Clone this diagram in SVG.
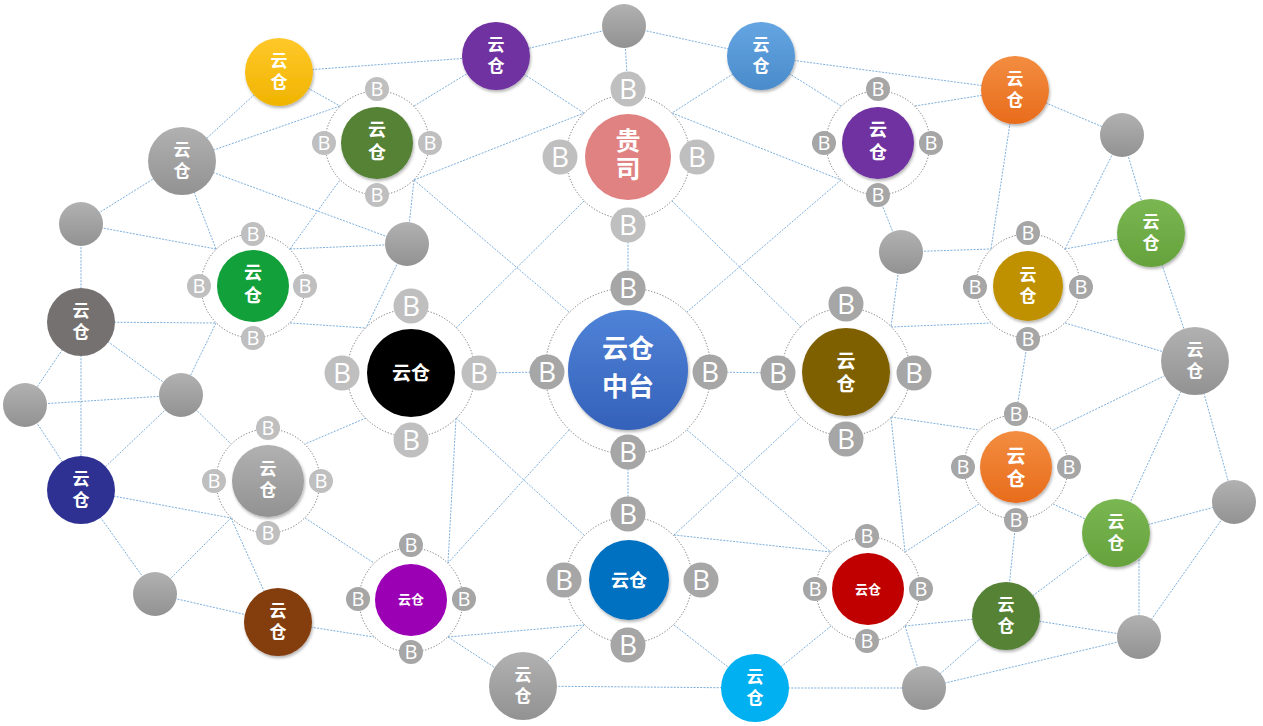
<svg xmlns="http://www.w3.org/2000/svg" width="1263" height="726" viewBox="0 0 1263 726">
<style>
.e{stroke:#5b9bd5;stroke-width:1;stroke-dasharray:2 1.3;opacity:.8;fill:none}
.ring{fill:#fff;stroke:#737373;stroke-width:1;stroke-dasharray:1.2 1.8}
.sl{fill:#bfbfbf}.sd{fill:#a6a6a6}
.b{fill:#fff;font-family:"Open Sans","Liberation Sans",sans-serif;text-anchor:middle;font-size:20px}
.bb{fill:#fff;font-family:"Open Sans","Liberation Sans",sans-serif;text-anchor:middle;font-size:28px}
.t{fill:#fff;font-family:"Noto Sans CJK SC","Noto Sans CJK JP",sans-serif;font-weight:700;text-anchor:middle}
.v{writing-mode:vertical-rl;text-orientation:upright}
.s17{font-size:17px;letter-spacing:3.5px}
.s18{font-size:18px;letter-spacing:5px}
.s19{font-size:19px;letter-spacing:4px}
</style>
<defs>
<filter id="sh" x="-30%" y="-30%" width="160%" height="170%"><feDropShadow dx="1" dy="2" stdDeviation="1.5" flood-color="#000" flood-opacity="0.3"/></filter>
<linearGradient id="gGray" x1="0" y1="0" x2="0" y2="1"><stop offset="0" stop-color="#b1b1b1"/><stop offset="1" stop-color="#929292"/></linearGradient>
<linearGradient id="gYellow" x1="0" y1="0" x2="0" y2="1"><stop offset="0" stop-color="#ffc82a"/><stop offset="1" stop-color="#f0b400"/></linearGradient>
<linearGradient id="gBlue" x1="0" y1="0" x2="0" y2="1"><stop offset="0" stop-color="#64a5e2"/><stop offset="1" stop-color="#4a8bcb"/></linearGradient>
<linearGradient id="gOrange" x1="0" y1="0" x2="0" y2="1"><stop offset="0" stop-color="#f38d40"/><stop offset="1" stop-color="#e86c1c"/></linearGradient>
<linearGradient id="gGreen" x1="0" y1="0" x2="0" y2="1"><stop offset="0" stop-color="#7ab752"/><stop offset="1" stop-color="#65a23c"/></linearGradient>
<linearGradient id="gCentral" x1="0" y1="0" x2="0" y2="1"><stop offset="0" stop-color="#4f83d8"/><stop offset="1" stop-color="#3461b9"/></linearGradient>
</defs>
<rect width="1263" height="726" fill="#fff"/>
<g id="connectors">
<line class="e" x1="279" y1="72" x2="182" y2="161"/>
<line class="e" x1="279" y1="72" x2="496" y2="56"/>
<line class="e" x1="279" y1="72" x2="340" y2="106"/>
<line class="e" x1="182" y1="161" x2="340" y2="106"/>
<line class="e" x1="182" y1="161" x2="407" y2="244"/>
<line class="e" x1="182" y1="161" x2="216" y2="249"/>
<line class="e" x1="81" y1="224" x2="182" y2="161"/>
<line class="e" x1="81" y1="224" x2="216" y2="249"/>
<line class="e" x1="81" y1="224" x2="81" y2="322"/>
<line class="e" x1="290" y1="249" x2="407" y2="244"/>
<line class="e" x1="290" y1="249" x2="340" y2="180"/>
<line class="e" x1="414" y1="180" x2="407" y2="244"/>
<line class="e" x1="407" y1="244" x2="366" y2="328"/>
<line class="e" x1="414" y1="180" x2="569" y2="312"/>
<line class="e" x1="414" y1="180" x2="584" y2="113"/>
<line class="e" x1="414" y1="106" x2="496" y2="56"/>
<line class="e" x1="496" y1="56" x2="584" y2="113"/>
<line class="e" x1="584" y1="201" x2="456" y2="328"/>
<line class="e" x1="628" y1="225" x2="628" y2="288"/>
<line class="e" x1="624" y1="26" x2="628" y2="89"/>
<line class="e" x1="624" y1="26" x2="496" y2="56"/>
<line class="e" x1="624" y1="26" x2="761" y2="56"/>
<line class="e" x1="761" y1="56" x2="672" y2="113"/>
<line class="e" x1="761" y1="56" x2="841" y2="106"/>
<line class="e" x1="761" y1="56" x2="1015" y2="90"/>
<line class="e" x1="672" y1="113" x2="841" y2="180"/>
<line class="e" x1="672" y1="201" x2="801" y2="327"/>
<line class="e" x1="841" y1="180" x2="687" y2="312"/>
<line class="e" x1="915" y1="106" x2="1015" y2="90"/>
<line class="e" x1="878" y1="195" x2="901" y2="252"/>
<line class="e" x1="901" y1="252" x2="991" y2="249"/>
<line class="e" x1="901" y1="252" x2="891" y2="327"/>
<line class="e" x1="1015" y1="90" x2="1122" y2="135"/>
<line class="e" x1="1015" y1="90" x2="991" y2="249"/>
<line class="e" x1="1122" y1="135" x2="1151" y2="233"/>
<line class="e" x1="1122" y1="135" x2="1065" y2="249"/>
<line class="e" x1="1151" y1="233" x2="1065" y2="249"/>
<line class="e" x1="1151" y1="233" x2="1195" y2="361"/>
<line class="e" x1="891" y1="327" x2="991" y2="323"/>
<line class="e" x1="1065" y1="323" x2="1195" y2="361"/>
<line class="e" x1="1028" y1="339" x2="1016" y2="414"/>
<line class="e" x1="1195" y1="361" x2="1234" y2="502"/>
<line class="e" x1="1195" y1="361" x2="1053" y2="430"/>
<line class="e" x1="1195" y1="361" x2="1116" y2="533"/>
<line class="e" x1="891" y1="417" x2="979" y2="430"/>
<line class="e" x1="891" y1="417" x2="905" y2="552"/>
<line class="e" x1="979" y1="504" x2="905" y2="552"/>
<line class="e" x1="1053" y1="504" x2="1116" y2="533"/>
<line class="e" x1="1016" y1="520" x2="1006" y2="616"/>
<line class="e" x1="1116" y1="533" x2="1234" y2="502"/>
<line class="e" x1="1116" y1="533" x2="1006" y2="616"/>
<line class="e" x1="1139" y1="533" x2="1139" y2="637"/>
<line class="e" x1="1234" y1="502" x2="1139" y2="637"/>
<line class="e" x1="1139" y1="637" x2="1006" y2="616"/>
<line class="e" x1="1139" y1="637" x2="924" y2="688"/>
<line class="e" x1="1006" y1="616" x2="924" y2="688"/>
<line class="e" x1="905" y1="626" x2="1006" y2="616"/>
<line class="e" x1="905" y1="626" x2="924" y2="688"/>
<line class="e" x1="831" y1="626" x2="755" y2="688"/>
<line class="e" x1="674" y1="535" x2="831" y2="552"/>
<line class="e" x1="755" y1="688" x2="924" y2="688"/>
<line class="e" x1="755" y1="688" x2="523" y2="686"/>
<line class="e" x1="674" y1="625" x2="755" y2="688"/>
<line class="e" x1="584" y1="625" x2="523" y2="686"/>
<line class="e" x1="628" y1="452" x2="628" y2="514"/>
<line class="e" x1="687" y1="430" x2="831" y2="552"/>
<line class="e" x1="569" y1="430" x2="448" y2="563"/>
<line class="e" x1="456" y1="418" x2="448" y2="563"/>
<line class="e" x1="456" y1="418" x2="584" y2="535"/>
<line class="e" x1="479" y1="373" x2="547" y2="372"/>
<line class="e" x1="710" y1="372" x2="778" y2="373"/>
<line class="e" x1="290" y1="323" x2="366" y2="328"/>
<line class="e" x1="81" y1="322" x2="216" y2="323"/>
<line class="e" x1="366" y1="418" x2="305" y2="444"/>
<line class="e" x1="216" y1="323" x2="181" y2="395"/>
<line class="e" x1="181" y1="395" x2="231" y2="444"/>
<line class="e" x1="81" y1="322" x2="181" y2="395"/>
<line class="e" x1="81" y1="322" x2="25" y2="405"/>
<line class="e" x1="81" y1="322" x2="81" y2="490"/>
<line class="e" x1="25" y1="405" x2="181" y2="395"/>
<line class="e" x1="25" y1="405" x2="81" y2="490"/>
<line class="e" x1="181" y1="395" x2="81" y2="490"/>
<line class="e" x1="81" y1="490" x2="231" y2="518"/>
<line class="e" x1="81" y1="490" x2="155" y2="594"/>
<line class="e" x1="155" y1="594" x2="231" y2="518"/>
<line class="e" x1="155" y1="594" x2="278" y2="622"/>
<line class="e" x1="231" y1="518" x2="278" y2="622"/>
<line class="e" x1="305" y1="518" x2="374" y2="563"/>
<line class="e" x1="278" y1="622" x2="374" y2="637"/>
<line class="e" x1="448" y1="637" x2="584" y2="625"/>
<line class="e" x1="448" y1="637" x2="523" y2="686"/>
<line class="e" x1="801" y1="417" x2="674" y2="535"/>
</g>

<g id="n-yellow"><circle cx="279" cy="72" r="34" fill="url(#gYellow)" filter="url(#sh)"/><text class="t v s17" x="279" y="73">云仓</text></g>
<g id="n-gray23"><circle cx="182" cy="161" r="34" fill="url(#gGray)"/><text class="t v s17" x="182" y="162">云仓</text></g>
<g id="n-gray22"><circle cx="81" cy="224" r="22" fill="url(#gGray)"/></g>
<g id="n-purpleTop"><circle cx="496" cy="56" r="34" fill="#7030a0" filter="url(#sh)"/><text class="t v s17" x="496" y="57">云仓</text></g>
<g id="n-gray24"><circle cx="407" cy="244" r="22" fill="url(#gGray)"/></g>
<g id="n-grayTop"><circle cx="624" cy="26" r="22" fill="url(#gGray)"/></g>
<g id="n-blue"><circle cx="761" cy="56" r="34" fill="url(#gBlue)" filter="url(#sh)"/><text class="t v s17" x="761" y="57">云仓</text></g>
<g id="n-gray25"><circle cx="901" cy="252" r="22" fill="url(#gGray)"/></g>
<g id="n-orangeTop"><circle cx="1015" cy="90" r="34" fill="url(#gOrange)" filter="url(#sh)"/><text class="t v s17" x="1015" y="91">云仓</text></g>
<g id="n-gray6"><circle cx="1122" cy="135" r="22" fill="url(#gGray)"/></g>
<g id="n-greenLight"><circle cx="1151" cy="233" r="34" fill="url(#gGreen)" filter="url(#sh)"/><text class="t v s17" x="1151" y="234">云仓</text></g>
<g id="n-gray8"><circle cx="1195" cy="361" r="34" fill="url(#gGray)"/><text class="t v s17" x="1195" y="362">云仓</text></g>
<g id="n-gray20"><circle cx="81" cy="322" r="34" fill="#767171"/><text class="t v s17" x="81" y="323">云仓</text></g>
<g id="n-gray21"><circle cx="181" cy="395" r="22" fill="url(#gGray)"/></g>
<g id="n-gray19"><circle cx="25" cy="405" r="22" fill="url(#gGray)"/></g>
<g id="n-darkBlue"><circle cx="81" cy="490" r="34" fill="#2e3192"/><text class="t v s17" x="81" y="491">云仓</text></g>
<g id="n-gray17"><circle cx="155" cy="594" r="22" fill="url(#gGray)"/></g>
<g id="n-brown"><circle cx="278" cy="622" r="34" fill="#843c0c" filter="url(#sh)"/><text class="t v s17" x="278" y="623">云仓</text></g>
<g id="n-gray15"><circle cx="523" cy="686" r="34" fill="url(#gGray)"/><text class="t v s17" x="523" y="687">云仓</text></g>
<g id="n-cyan"><circle cx="755" cy="688" r="34" fill="#00b0f0"/><text class="t v s17" x="755" y="689">云仓</text></g>
<g id="n-gray13"><circle cx="924" cy="688" r="22" fill="url(#gGray)"/></g>
<g id="n-darkGreen"><circle cx="1006" cy="616" r="34" fill="#548235" filter="url(#sh)"/><text class="t v s17" x="1006" y="617">云仓</text></g>
<g id="n-gray11"><circle cx="1139" cy="637" r="22" fill="url(#gGray)"/></g>
<g id="n-greenLight2"><circle cx="1116" cy="533" r="34" fill="url(#gGreen)" filter="url(#sh)"/><text class="t v s17" x="1116" y="534">云仓</text></g>
<g id="n-gray9"><circle cx="1234" cy="502" r="22" fill="url(#gGray)"/></g>

<g id="n-greenA"><circle class="ring" cx="377" cy="143" r="52"/><circle cx="377" cy="143" r="36" fill="#548235" filter="url(#sh)"/><text class="t v s18" x="377" y="143">云仓</text>
<circle class="sl" cx="377" cy="89" r="12"/><text class="b" x="377" y="96">B</text>
<circle class="sl" cx="324" cy="143" r="12"/><text class="b" x="324" y="150">B</text>
<circle class="sl" cx="430" cy="143" r="12"/><text class="b" x="430" y="150">B</text>
<circle class="sl" cx="377" cy="195" r="12"/><text class="b" x="377" y="202">B</text></g>

<g id="n-guisi"><circle class="ring" cx="628" cy="157" r="62"/><circle cx="628" cy="157" r="43" fill="#e08282"/><text class="t v" x="628" y="156" font-size="25" letter-spacing="3.5">贵司</text>
<circle class="sl" cx="628" cy="89" r="17.5"/><text class="bb" x="628" y="99">B</text>
<circle class="sl" cx="560" cy="157" r="17.5"/><text class="bb" x="560" y="167">B</text>
<circle class="sl" cx="697" cy="157" r="17.5"/><text class="bb" x="697" y="167">B</text>
<circle class="sl" cx="628" cy="225" r="17.5"/><text class="bb" x="628" y="235">B</text></g>

<g id="n-purpleF"><circle class="ring" cx="878" cy="143" r="52"/><circle cx="878" cy="143" r="36" fill="#7030a0" filter="url(#sh)"/><text class="t v s18" x="878" y="143">云仓</text>
<circle class="sd" cx="878" cy="89" r="12"/><text class="b" x="878" y="96">B</text>
<circle class="sd" cx="824" cy="143" r="12"/><text class="b" x="824" y="150">B</text>
<circle class="sd" cx="931" cy="143" r="12"/><text class="b" x="931" y="150">B</text>
<circle class="sd" cx="878" cy="195" r="12"/><text class="b" x="878" y="202">B</text></g>

<g id="n-goldG"><circle class="ring" cx="1028" cy="286" r="52"/><circle cx="1028" cy="286" r="35" fill="#bf9000" filter="url(#sh)"/><text class="t v s17" x="1028" y="287" letter-spacing="4.5">云仓</text>
<circle class="sd" cx="1028" cy="233" r="12"/><text class="b" x="1028" y="240">B</text>
<circle class="sd" cx="975" cy="287" r="12"/><text class="b" x="975" y="294">B</text>
<circle class="sd" cx="1081" cy="287" r="12"/><text class="b" x="1081" y="294">B</text>
<circle class="sd" cx="1028" cy="339" r="12"/><text class="b" x="1028" y="346">B</text></g>

<g id="n-greenB"><circle class="ring" cx="253" cy="286" r="52"/><circle cx="253" cy="286" r="36" fill="#12a03a"/><text class="t v s18" x="253" y="286">云仓</text>
<circle class="sl" cx="253" cy="234" r="12"/><text class="b" x="253" y="241">B</text>
<circle class="sl" cx="199" cy="286" r="12"/><text class="b" x="199" y="293">B</text>
<circle class="sl" cx="305" cy="286" r="12"/><text class="b" x="305" y="293">B</text>
<circle class="sl" cx="253" cy="338" r="12"/><text class="b" x="253" y="345">B</text></g>

<g id="n-black"><circle class="ring" cx="411" cy="373" r="64"/><circle cx="411" cy="373" r="44" fill="#000"/><text class="t" x="411" y="380" font-size="19">云仓</text>
<circle class="sl" cx="411" cy="306" r="17.5"/><text class="bb" x="411" y="316">B</text>
<circle class="sl" cx="342" cy="373" r="17.5"/><text class="bb" x="342" y="383">B</text>
<circle class="sl" cx="479" cy="373" r="17.5"/><text class="bb" x="479" y="383">B</text>
<circle class="sl" cx="411" cy="440" r="17.5"/><text class="bb" x="411" y="450">B</text></g>

<g id="n-central"><circle class="ring" cx="628" cy="371" r="83"/><circle cx="628" cy="370" r="60" fill="url(#gCentral)" filter="url(#sh)"/><text class="t" x="628" y="358" font-size="26">云仓</text><text class="t" x="628" y="396" font-size="26">中台</text>
<circle class="sd" cx="628" cy="288" r="17.5"/><text class="bb" x="628" y="298">B</text>
<circle class="sd" cx="547" cy="372" r="17.5"/><text class="bb" x="547" y="382">B</text>
<circle class="sd" cx="710" cy="372" r="17.5"/><text class="bb" x="710" y="382">B</text>
<circle class="sd" cx="628" cy="452" r="17.5"/><text class="bb" x="628" y="462">B</text></g>

<g id="n-olive"><circle class="ring" cx="846" cy="372" r="64"/><circle cx="846" cy="372" r="44" fill="#7f6000" filter="url(#sh)"/><text class="t v s19" x="846" y="374">云仓</text>
<circle class="sd" cx="846" cy="304" r="17.5"/><text class="bb" x="846" y="314">B</text>
<circle class="sd" cx="778" cy="373" r="17.5"/><text class="bb" x="778" y="383">B</text>
<circle class="sd" cx="914" cy="373" r="17.5"/><text class="bb" x="914" y="383">B</text>
<circle class="sd" cx="846" cy="439" r="17.5"/><text class="bb" x="846" y="449">B</text></g>

<g id="n-grayM"><circle class="ring" cx="268" cy="481" r="52"/><circle cx="268" cy="481" r="36" fill="url(#gGray)" filter="url(#sh)"/><text class="t v s17" x="268" y="481" letter-spacing="5">云仓</text>
<circle class="sl" cx="268" cy="428" r="12"/><text class="b" x="268" y="435">B</text>
<circle class="sl" cx="214" cy="481" r="12"/><text class="b" x="214" y="488">B</text>
<circle class="sl" cx="321" cy="481" r="12"/><text class="b" x="321" y="488">B</text>
<circle class="sl" cx="268" cy="533" r="12"/><text class="b" x="268" y="540">B</text></g>

<g id="n-orangeI"><circle class="ring" cx="1016" cy="467" r="52"/><circle cx="1016" cy="467" r="36" fill="url(#gOrange)" filter="url(#sh)"/><text class="t v s19" x="1016" y="469">云仓</text>
<circle class="sd" cx="1016" cy="414" r="12"/><text class="b" x="1016" y="421">B</text>
<circle class="sd" cx="963" cy="467" r="12"/><text class="b" x="963" y="474">B</text>
<circle class="sd" cx="1069" cy="467" r="12"/><text class="b" x="1069" y="474">B</text>
<circle class="sd" cx="1016" cy="520" r="12"/><text class="b" x="1016" y="527">B</text></g>

<g id="n-blueK"><circle class="ring" cx="629" cy="580" r="63"/><circle cx="629" cy="580" r="40" fill="#0070c0" filter="url(#sh)"/><text class="t" x="629" y="587" font-size="18">云仓</text>
<circle class="sd" cx="628" cy="514" r="17.5"/><text class="bb" x="628" y="524">B</text>
<circle class="sd" cx="564" cy="580" r="17.5"/><text class="bb" x="564" y="590">B</text>
<circle class="sd" cx="701" cy="580" r="17.5"/><text class="bb" x="701" y="590">B</text>
<circle class="sd" cx="628" cy="645" r="17.5"/><text class="bb" x="628" y="655">B</text></g>

<g id="n-magenta"><circle class="ring" cx="411" cy="600" r="52"/><circle cx="411" cy="600" r="36" fill="#9c00b4"/><text class="t" x="411" y="603.5" font-size="13">云仓</text>
<circle class="sd" cx="411" cy="545" r="12"/><text class="b" x="411" y="552">B</text>
<circle class="sd" cx="358" cy="599" r="12"/><text class="b" x="358" y="606">B</text>
<circle class="sd" cx="464" cy="599" r="12"/><text class="b" x="464" y="606">B</text>
<circle class="sd" cx="411" cy="652" r="12"/><text class="b" x="411" y="659">B</text></g>

<g id="n-red"><circle class="ring" cx="868" cy="589" r="52"/><circle cx="868" cy="589" r="36" fill="#c00000"/><text class="t" x="868" y="594" font-size="13">云仓</text>
<circle class="sd" cx="867" cy="536" r="12"/><text class="b" x="867" y="543">B</text>
<circle class="sd" cx="815" cy="589" r="12"/><text class="b" x="815" y="596">B</text>
<circle class="sd" cx="921" cy="589" r="12"/><text class="b" x="921" y="596">B</text>
<circle class="sd" cx="867" cy="641" r="12"/><text class="b" x="867" y="648">B</text></g>
</svg>
